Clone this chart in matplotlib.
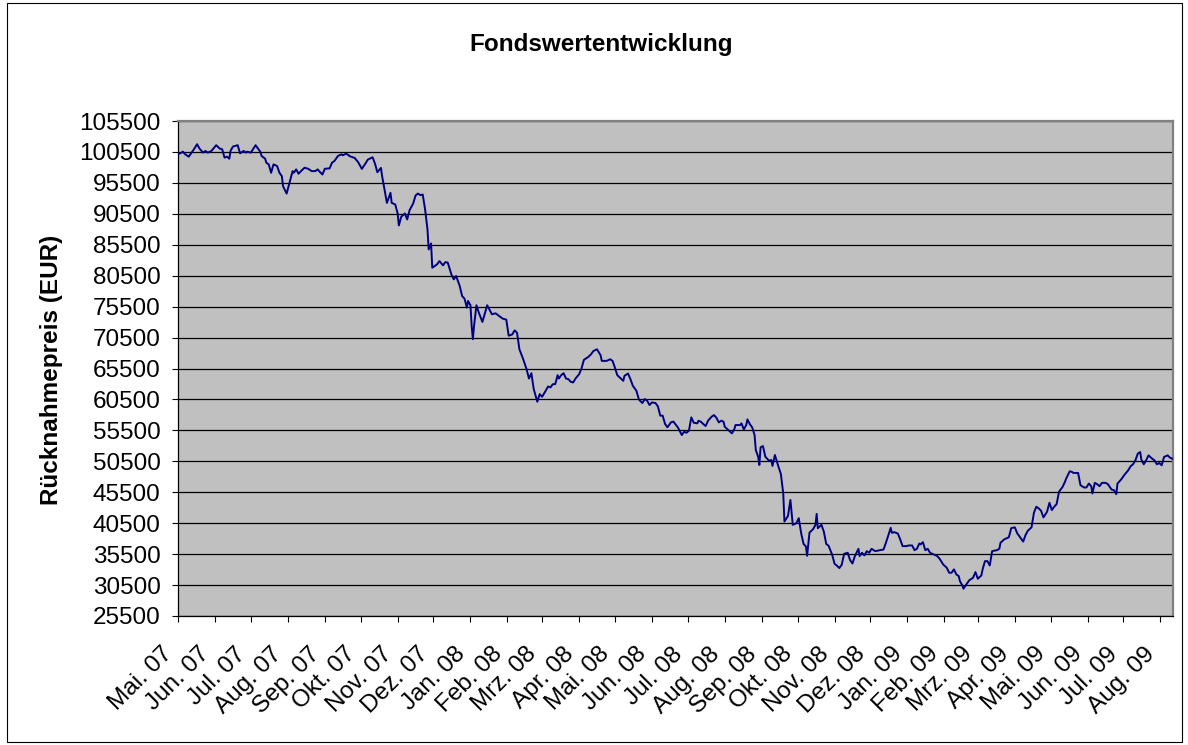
import matplotlib
matplotlib.use('Agg')
import matplotlib.pyplot as plt
import matplotlib.dates as mdates
import matplotlib.transforms as mtransforms
from matplotlib.patches import Rectangle
import pandas as pd

plt.rcParams['font.family'] = ['Liberation Sans', 'DejaVu Sans']

# ---------------- data ----------------
title = "Fondswertentwicklung"
y_label = "Rücknahmepreis (EUR)"
start_date = "2007-05-01"
end_offset_days = 833.5

# days elapsed since start_date, and fund price (EUR)
day_offsets = [
    0, 3, 4, 6, 9, 11, 13, 16, 18, 21, 23, 25, 28, 32, 35, 37, 39, 41, 43, 44,
    46, 50, 52, 55, 57, 58, 61, 65, 69, 70, 73, 74, 76, 78, 80, 83, 85, 87, 88, 91,
    93, 96, 97, 99, 101, 103, 106, 109, 112, 115, 117, 119, 121, 123, 127, 129, 131, 134, 137, 138,
    141, 144, 148, 151, 154, 157, 159, 163, 165, 167, 170, 171, 173, 175, 178, 179, 182, 184, 185, 187,
    190, 192, 194, 197, 198, 199, 201, 203, 205, 207, 209, 210, 212, 213, 217, 219, 222, 224, 226, 229,
    231, 233, 236, 238, 240, 242, 243, 245, 246, 247, 248, 250, 252, 255, 259, 263, 266, 269, 272, 275,
    277, 280, 282, 284, 286, 289, 292, 294, 296, 298, 301, 303, 305, 308, 310, 312, 314, 316, 318, 319,
    321, 323, 325, 327, 329, 331, 333, 336, 338, 340, 342, 344, 346, 348, 351, 354, 355, 359, 362, 364,
    366, 368, 371, 373, 374, 377, 379, 381, 384, 386, 387, 389, 391, 393, 395, 397, 400, 402, 404, 406,
    408, 410, 413, 415, 419, 422, 424, 426, 428, 430, 432, 435, 436, 438, 440, 442, 444, 447, 449, 451,
    453, 455, 457, 458, 461, 464, 466, 467, 471, 472, 474, 476, 477, 479, 481, 483, 484, 486, 487, 488,
    490, 492, 495, 497, 498, 500, 503, 505, 507, 508, 511, 513, 515, 518, 520, 522, 524, 526, 527, 529,
    532, 534, 535, 536, 539, 541, 543, 545, 548, 550, 552, 554, 556, 558, 561, 563, 565, 567, 570, 571,
    573, 575, 577, 579, 581, 584, 587, 591, 593, 595, 597, 598, 600, 603, 605, 607, 610, 612, 615, 617,
    619, 621, 622, 624, 626, 628, 630, 633, 636, 638, 641, 644, 646, 648, 650, 652, 654, 655, 657, 658,
    661, 663, 666, 668, 670, 673, 674, 676, 678, 680, 682, 686, 688, 689, 692, 696, 698, 701, 703, 705,
    708, 710, 712, 715, 717, 719, 721, 723, 725, 728, 730, 732, 734, 736, 738, 741, 743, 744, 747, 749,
    750, 752, 754, 756, 759, 761, 763, 765, 766, 768, 770, 772, 774, 777, 779, 782, 784, 786, 787, 790,
    793, 796, 798, 800, 802, 804, 806, 807, 809, 811, 813, 816, 818, 820, 822, 824, 826, 829, 831, 834,
]
prices = [
    100120, 100390, 100550, 100120, 99740, 100280, 100830, 101750, 101040, 100390,
    100660, 100390, 100660, 101590, 101040, 100930, 99580, 99740, 99410, 100660,
    101370, 101590, 100280, 100660, 100390, 100550, 100390, 101590, 100500, 99850,
    99410, 98760, 98490, 97130, 98490, 98220, 97130, 96590, 94960, 93770,
    95230, 97400, 97130, 97680, 96970, 97400, 97950, 97780, 97400, 97400,
    97680, 97240, 96860, 97780, 97840, 98760, 99030, 99850, 100120, 99960,
    100230, 99800, 99530, 98830, 97760, 98620, 99260, 99640, 98620, 97220,
    97920, 96580, 94420, 92270, 93890, 92270, 92000, 90550, 88620, 90020,
    90550, 89590, 91090, 92170, 92810, 93460, 93780, 93510, 93620, 91200,
    87970, 84740, 85710, 81790, 82330, 82860, 82170, 82700, 82600, 80710,
    79910, 80450, 78830, 77220, 76790, 75340, 76420, 75720, 72380, 70230,
    72380, 75720, 74530, 73020, 75720, 74260, 74420, 73990, 73560, 73400,
    70800, 71010, 71660, 71280, 68600, 67100, 65380, 63880, 64740, 62170,
    60130, 61360, 60930, 61900, 62600, 62440, 62970, 62970, 64420, 63880,
    64420, 64740, 63880, 63780, 63350, 63240, 63880, 64580, 65490, 66890,
    67160, 67420, 67800, 68330, 68600, 67640, 66730, 66730, 66990, 66730,
    65650, 64420, 63880, 63510, 64310, 64690, 63780, 62710, 61900, 60560,
    60290, 59920, 60560, 60290, 59600, 60020, 59920, 59380, 57880, 57880,
    56540, 56000, 56810, 56920, 55900, 54750, 55280, 55120, 55450, 57600,
    56740, 56630, 57060, 56900, 56520, 56200, 57060, 57710, 57970, 57540,
    56790, 57060, 56900, 56090, 55550, 55020, 55660, 56360, 56360, 56630,
    55660, 56360, 57270, 56520, 55980, 54750, 52330, 51250, 49910, 52760,
    52970, 51250, 50610, 50710, 49750, 51520, 49640, 48460, 45340, 40770,
    41680, 44260, 40230, 40500, 41310, 38890, 37160, 36730, 35230, 38990,
    39530, 40230, 42000, 39690, 40230, 39150, 37160, 36840, 35390, 33940,
    33620, 33250, 33780, 35550, 35720, 34530, 33990, 35180, 36360, 35180,
    35720, 35290, 35980, 35720, 36360, 35980, 36090, 36250, 37330, 38510,
    39750, 38940, 39050, 38830, 37870, 36790, 36790, 36900, 36900, 36140,
    36360, 37220, 37060, 37430, 36140, 36360, 35720, 35450, 35180, 34750,
    33830, 33290, 32490, 32490, 33030, 32220, 31950, 31140, 30450, 29910,
    30770, 31310, 31680, 32600, 31520, 32060, 33030, 34370, 34370, 33670,
    35980, 36140, 36360, 37330, 37870, 38230, 39700, 39830, 38870, 38330,
    37530, 38600, 39300, 39830, 42190, 43160, 42890, 42510, 41440, 42350,
    43800, 42620, 43160, 43590, 45570, 46370, 47180, 47710, 48890, 48780,
    48620, 48620, 48620, 46640, 46270, 46270, 46910, 46480, 45300, 47020,
    46800, 46480, 47020, 47020, 46800, 45940, 45840, 45190, 46910, 47550,
    48360, 49050, 49700, 50020, 50660, 51730, 52000, 50770, 50020, 50660,
    51460, 50930, 50660, 50020, 50230, 49860, 51200, 51460, 51090, 50820,
]

month_labels = [
    "Mai. 07", "Jun. 07", "Jul. 07", "Aug. 07", "Sep. 07", "Okt. 07", "Nov. 07", "Dez. 07",
    "Jan. 08", "Feb. 08", "Mrz. 08", "Apr. 08", "Mai. 08", "Jun. 08", "Jul. 08", "Aug. 08",
    "Sep. 08", "Okt. 08", "Nov. 08", "Dez. 08", "Jan. 09", "Feb. 09", "Mrz. 09", "Apr. 09",
    "Mai. 09", "Jun. 09", "Jul. 09", "Aug. 09",
]
y_ticks = list(range(25500, 105501, 5000))

# ---------------- figure ----------------
W, H = 1188, 745
fig = plt.figure(figsize=(W / 100, H / 100), dpi=100)
fig.patch.set_facecolor('white')

# outer chart border
fig.add_artist(Rectangle((7 / W, 3 / H), (1182 - 7) / W, (742 - 3) / H,
                         transform=fig.transFigure, fill=False,
                         edgecolor='black', linewidth=0.8))

left, right, top, bottom = 178 / W, 1173 / W, 1 - 121 / H, 1 - 616 / H
ax = fig.add_axes([left, bottom, right - left, top - bottom])
ax.set_facecolor('#C0C0C0')

start = pd.Timestamp(start_date)
dates = start + pd.to_timedelta(day_offsets, unit='D')
ax.plot(dates, prices, color='#000080', linewidth=1.4, zorder=3)

ax.set_xlim(start, start + pd.Timedelta(days=end_offset_days))
ax.set_ylim(y_ticks[0], y_ticks[-1])

ax.set_yticks(y_ticks)
ax.set_yticklabels([str(v) for v in y_ticks])
ax.yaxis.grid(True, color='black', linewidth=0.9)
ax.set_axisbelow(True)

month_ticks = pd.date_range(start_date, periods=len(month_labels), freq='MS')
ax.set_xticks(month_ticks)
ax.set_xticklabels(month_labels, rotation=45, ha='right', va='top',
                   rotation_mode='anchor')

ax.tick_params(axis='y', length=4.5, width=0.8, pad=8, labelsize=17.5, direction='out')
ax.tick_params(axis='x', length=4.5, width=0.8, pad=6, labelsize=17.5, direction='out')

offset = mtransforms.ScaledTranslation(-12 / 72, -9 / 72, fig.dpi_scale_trans)
for lbl in ax.get_xticklabels():
    lbl.set_transform(lbl.get_transform() + offset)

for side in ('left', 'bottom'):
    ax.spines[side].set_color('black')
    ax.spines[side].set_linewidth(0.9)
for side in ('top', 'right'):
    ax.spines[side].set_color('#808080')
    ax.spines[side].set_linewidth(1.6)

fig.text(601 / W, 1 - 44 / H, title, ha='center', va='center',
         fontsize=17.5, fontweight='bold')
fig.text(52 / W, 1 - 370 / H, y_label, ha='center', va='center',
         rotation=90, fontsize=17.5, fontweight='bold')

fig.savefig('out.png', dpi=100)
